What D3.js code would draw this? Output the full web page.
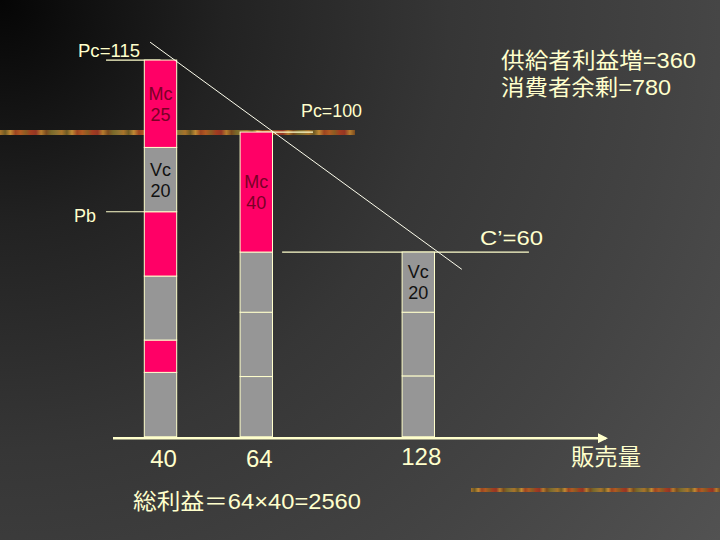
<!DOCTYPE html>
<html>
<head>
<meta charset="utf-8">
<script src="https://cdn.jsdelivr.net/npm/d3@7"></script>
<style>
  body { margin: 0; background: #000; }
  svg text { font-family: "Liberation Sans", Arial, "Noto Sans CJK JP", sans-serif; }
</style>
</head>
<body>
<div class="vis-holder"></div>
<script>
// sales quantities where the bars stand
var quantities = [40, 64, 128];
var quantityLabels = ["40", "64", "128"];

// stacked segment heights per bar (bottom to top)
var bar1Segments = [20.1, 10.1, 20, 20.1, 20.1, 27.3];
var bar1Kinds = ["vc", "mc", "vc", "mc", "vc", "mc"];
var bar1Labels = [null, null, null, null, ["Vc", "20"], ["Mc", "25"]];

var bar2Segments = [18.8, 20.1, 18.8, 37.5];
var bar2Kinds = ["vc", "vc", "vc", "mc"];
var bar2Labels = [null, null, null, ["Mc", "40"]];

var bar3Segments = [19, 19.9, 18.8];
var bar3Kinds = ["vc", "vc", "vc"];
var bar3Labels = [null, null, ["Vc", "20"]];

// demand line end points [quantity, price]
var demandLine = [[33.1, 123.3], [145.2, 52.3]];

// horizontal price lines: [fromQuantity, toQuantity, price]
var priceLines = [
  [4, 40, 117.7],     // Pc=115
  [4, 40, 70.3],      // Pb
  [64, 86.4, 95.2],   // Pc=100
  [74.2, 171.7, 57.7] // C'=60
];

var width = 720;
var height = 540;
var axisY = 436.7;

var svg = d3.select(".vis-holder")
            .append("svg")
            .attr("width", width)
            .attr("height", height);

var defs = svg.append("defs");

// slide background, dark in the top left corner
var bg = defs.append("radialGradient")
             .attr("id", "bg")
             .attr("gradientUnits", "userSpaceOnUse")
             .attr("cx", 0).attr("cy", 0).attr("r", 900);
bg.append("stop").attr("offset", "0%").attr("stop-color", "#050505");
bg.append("stop").attr("offset", "25%").attr("stop-color", "#222222");
bg.append("stop").attr("offset", "50%").attr("stop-color", "#363636");
bg.append("stop").attr("offset", "75%").attr("stop-color", "#434343");
bg.append("stop").attr("offset", "100%").attr("stop-color", "#525252");

// decorative rusty stripe
var stripeColors = ["#a8732a", "#8a5c22", "#7a6a2a", "#9c4420", "#b47c2e", "#6e5a24",
                    "#a23c20", "#8c7232", "#b05a22", "#7a4a1e", "#c08a34", "#943624"];
var stripe = defs.append("linearGradient")
                 .attr("id", "stripe")
                 .attr("x1", 0).attr("x2", 1).attr("y1", 0).attr("y2", 0);
d3.range(70).forEach(function(i) {
  stripe.append("stop")
        .attr("offset", (i / 69 * 100) + "%")
        .attr("stop-color", stripeColors[(i * 5) % stripeColors.length]);
});

svg.append("rect")
   .attr("width", width)
   .attr("height", height)
   .attr("fill", "url(#bg)");

svg.append("rect")
   .attr("x", 0).attr("y", 130)
   .attr("width", 355).attr("height", 5)
   .attr("fill", "url(#stripe)");

svg.append("rect")
   .attr("x", 471).attr("y", 488)
   .attr("width", 249).attr("height", 4)
   .attr("fill", "url(#stripe)");

// x positions on the slide are not evenly spaced, so use a piecewise scale
var xScale = d3.scaleLinear()
               .domain([0, 40, 64, 128, 160])
               .range([100, 160.5, 256.3, 418.3, 499.3]);

var yScale = d3.scaleLinear()
               .domain([0, 120])
               .range([axisY, axisY - 384]);

var barWidth = 32.4;
var cream = "#ffffcc";

// horizontal price lines (under the bars)
svg.append("g")
   .selectAll("line")
   .data(priceLines)
   .enter()
   .append("line")
   .attr("x1", function(d) { return xScale(d[0]); })
   .attr("x2", function(d) { return xScale(d[1]); })
   .attr("y1", function(d) { return yScale(d[2]); })
   .attr("y2", function(d) { return yScale(d[2]); })
   .attr("stroke", cream)
   .attr("stroke-width", 1.2);

// build the stacked bars
var bars = [
  { q: quantities[0], segs: bar1Segments, kinds: bar1Kinds, labels: bar1Labels },
  { q: quantities[1], segs: bar2Segments, kinds: bar2Kinds, labels: bar2Labels },
  { q: quantities[2], segs: bar3Segments, kinds: bar3Kinds, labels: bar3Labels }
];

bars.forEach(function(bar) {
  var base = 0;
  var pieces = bar.segs.map(function(v, i) {
    var p = { q: bar.q, y0: base, y1: base + v, kind: bar.kinds[i], label: bar.labels[i] };
    base += v;
    return p;
  });

  var g = svg.append("g");

  g.selectAll("rect")
   .data(pieces)
   .enter()
   .append("rect")
   .attr("x", function(d) { return xScale(d.q) - barWidth / 2; })
   .attr("y", function(d) { return yScale(d.y1); })
   .attr("width", barWidth)
   .attr("height", function(d) { return yScale(d.y0) - yScale(d.y1); })
   .attr("fill", function(d) { return d.kind == "mc" ? "#ff0066" : "#969696"; })
   .attr("stroke", cream)
   .attr("stroke-width", 1);

  var labelled = pieces.filter(function(d) { return d.label; });
  var txt = g.selectAll("text")
             .data(labelled)
             .enter()
             .append("text")
             .attr("text-anchor", "middle")
             .attr("font-size", 18)
             .attr("fill", function(d) { return d.kind == "mc" ? "#7a0026" : "#111111"; });
  txt.append("tspan")
     .attr("x", function(d) { return xScale(d.q); })
     .attr("y", function(d) { return (yScale(d.y0) + yScale(d.y1)) / 2 - 4; })
     .text(function(d) { return d.label[0]; });
  txt.append("tspan")
     .attr("x", function(d) { return xScale(d.q); })
     .attr("y", function(d) { return (yScale(d.y0) + yScale(d.y1)) / 2 + 17; })
     .text(function(d) { return d.label[1]; });
});

// demand line
var line = d3.line()
             .x(function(d) { return xScale(d[0]); })
             .y(function(d) { return yScale(d[1]); });

svg.append("path")
   .attr("d", line(demandLine))
   .attr("fill", "none")
   .attr("stroke", "#ffffee")
   .attr("stroke-width", 1);

// x axis with arrow head
defs.append("marker")
    .attr("id", "arrow")
    .attr("viewBox", "0 0 10 10")
    .attr("refX", 8).attr("refY", 5)
    .attr("markerWidth", 4).attr("markerHeight", 4)
    .attr("orient", "auto")
    .append("path")
    .attr("d", "M0,0 L10,5 L0,10 Z")
    .attr("fill", cream);

svg.append("line")
   .attr("x1", 113).attr("x2", 606)
   .attr("y1", axisY + 1.5).attr("y2", axisY + 1.5)
   .attr("stroke", cream)
   .attr("stroke-width", 2.5)
   .attr("marker-end", "url(#arrow)");

// quantity tick labels
svg.append("g")
   .selectAll("text")
   .data(quantities)
   .enter()
   .append("text")
   .attr("x", function(d) { return xScale(d) + 3; })
   .attr("y", function(d, i) { return i == 2 ? 464.5 : 467; })
   .attr("text-anchor", "middle")
   .attr("font-size", 24)
   .attr("fill", cream)
   .text(function(d, i) { return quantityLabels[i]; });

// other texts (len: width on the slide)
var texts = [
  { x: 78, y: 56.5, size: 18, text: "Pc=115", len: 62 },
  { x: 74, y: 222, size: 19, text: "Pb", len: 22 },
  { x: 301, y: 116.5, size: 18, text: "Pc=100", len: 61 },
  { x: 480, y: 245, size: 21, text: "C\u2019=60", len: 63 },
  { x: 501, y: 68, size: 22, text: "供給者利益増=360", len: 195 },
  { x: 501, y: 95, size: 22, text: "消費者余剰=780", len: 170 },
  { x: 571, y: 465, size: 23, text: "販売量", len: 70 },
  { x: 133, y: 509, size: 22, text: "総利益＝64×40=2560", len: 228 }
];

svg.append("g")
   .selectAll("text")
   .data(texts)
   .enter()
   .append("text")
   .attr("x", function(d) { return d.x; })
   .attr("y", function(d) { return d.y; })
   .attr("font-size", function(d) { return d.size; })
   .attr("textLength", function(d) { return d.len; })
   .attr("lengthAdjust", "spacingAndGlyphs")
   .attr("fill", cream)
   .text(function(d) { return d.text; });
</script>
</body>
</html>
